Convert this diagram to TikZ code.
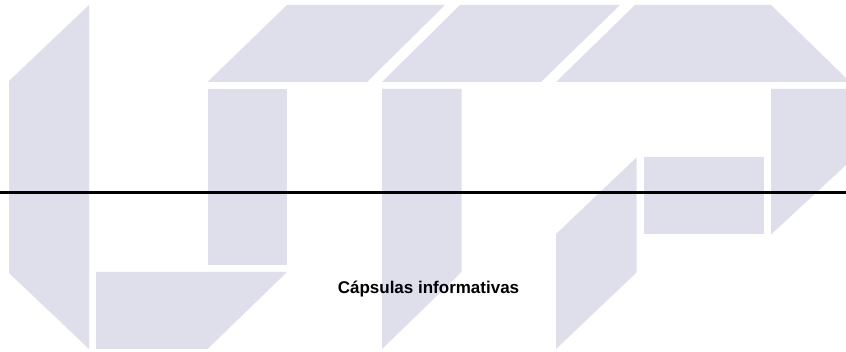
\documentclass[tikz,border=0pt]{standalone}
\usepackage{fontspec}
\setmainfont{Liberation Sans}
\definecolor{shapecol}{HTML}{DFDFEB}
\tikzset{blockshape/.style={fill=shapecol,draw=none},rulerline/.style={draw=black,line width=3.2pt},caption/.style={font=\bfseries\fontsize{17}{20}\selectfont,text=black,inner sep=0pt,anchor=base}}
\begin{document}
\begin{tikzpicture}[x=1pt,y=-1pt]
\useasboundingbox (0,0) rectangle (846,352);
\fill[white] (0,0) rectangle (846,352);
\path[blockshape] (9,81) -- (89,5) -- (89,349) -- (9,273) -- cycle;
\path[blockshape] (96,272) -- (287,272) -- (207.5,349) -- (96,349) -- cycle;
\path[blockshape] (207.5,89) rectangle (287,265);
\path[blockshape] (207.5,82) -- (287,5) -- (445,5) -- (367,82) -- cycle;
\path[blockshape] (382,82) -- (460,5) -- (620,5) -- (541,82) -- cycle;
\path[blockshape] (556,82) -- (635,5) -- (771,5) -- (846,78) -- (846,82) -- cycle;
\path[blockshape] (382,89) -- (461.5,89) -- (461.5,272) -- (382,349) -- cycle;
\path[blockshape] (771,89) -- (846,89) -- (846,165) -- (771,234.5) -- cycle;
\path[blockshape] (556,234) -- (636.5,157.5) -- (636.5,272.5) -- (556,349) -- cycle;
\path[blockshape] (643.5,157.5) rectangle (763.5,234.5);
\coordinate (ruleL) at (0,192.6);
\coordinate (ruleR) at (846,192.6);
\draw[rulerline] (ruleL) -- (ruleR);
\node[caption] (cap) at (428.5,294) {Cápsulas informativas};
\end{tikzpicture}
\end{document}
